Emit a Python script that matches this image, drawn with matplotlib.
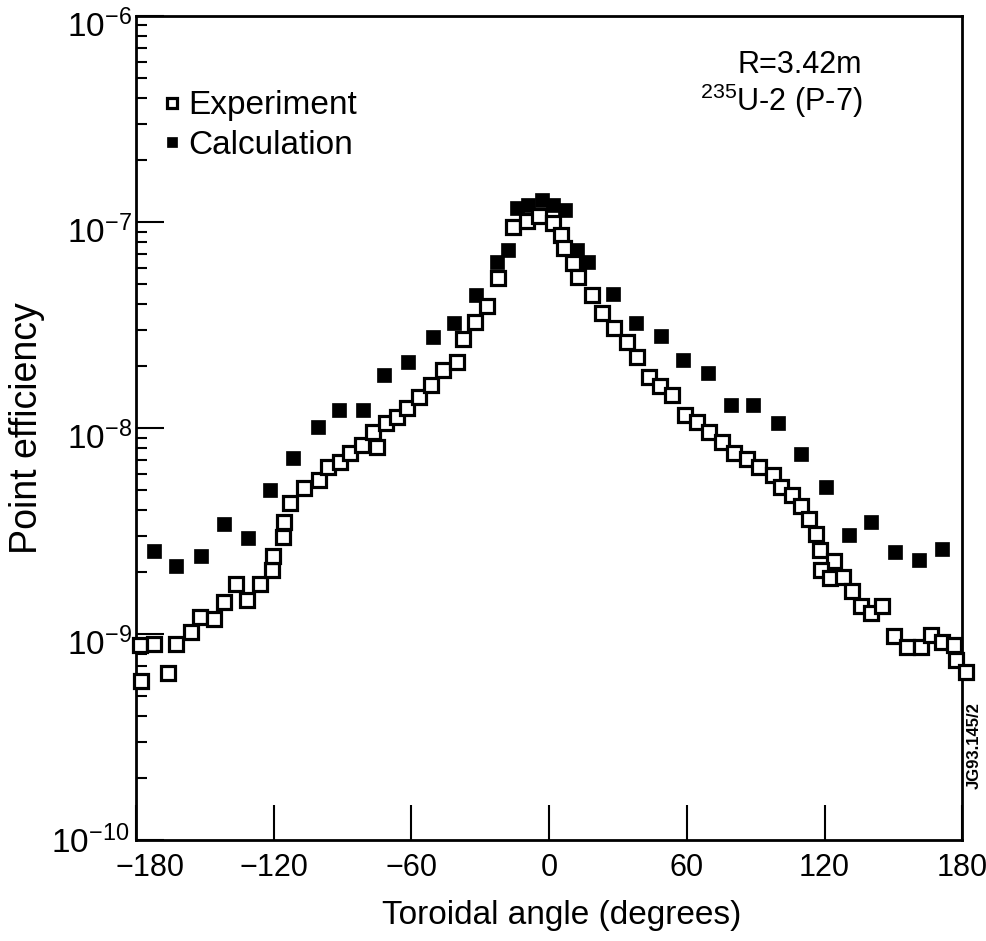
import numpy as np
import matplotlib
matplotlib.use("Agg")
import matplotlib.pyplot as plt
from matplotlib.ticker import LogLocator, FixedLocator, NullFormatter
from matplotlib.transforms import ScaledTranslation

plt.rcParams["font.family"] = ["Liberation Sans", "DejaVu Sans"]
plt.rcParams["mathtext.default"] = "regular"
plt.rcParams["axes.unicode_minus"] = True

# Experiment (open squares): toroidal angle (deg), point efficiency
exp_angle = [-178.3, -177.8, -172.2, -166.1, -162.6, -156.1, -152.1, -146.0,
             -141.7, -136.5, -131.7, -126.0, -120.8, -120.3, -116.0, -115.5,
             -113.0, -106.9, -100.3, -96.4, -91.2, -86.8, -81.6, -76.8,
             -75.1, -71.2, -66.4, -62.0, -56.8, -51.6, -46.4, -40.3,
             -37.7, -32.4, -27.2, -22.4, -15.9, -9.8, -4.6, 1.5,
             5.0, 6.3, 10.2, 12.4, 18.5, 22.9, 28.1, 33.7,
             38.1, 43.3, 48.1, 53.3, 59.0, 64.2, 69.8, 75.5,
             80.3, 86.0, 91.6, 97.3, 101.2, 106.0, 109.9, 113.0,
             116.4, 118.2, 124.3, 118.6, 122.5, 127.8, 132.1, 136.0,
             140.4, 145.2, 150.4, 156.1, 162.1, 166.5, 171.3, 176.5,
             177.4, 181.5]
exp_eff = [8.85e-10, 5.9e-10, 9.0e-10, 6.5e-10, 9.0e-10, 1.03e-9, 1.21e-9, 1.18e-9,
           1.43e-9, 1.75e-9, 1.46e-9, 1.75e-9, 2.05e-9, 2.39e-9, 2.96e-9, 3.50e-9,
           4.32e-9, 5.11e-9, 5.59e-9, 6.47e-9, 6.84e-9, 7.56e-9, 8.27e-9, 9.57e-9,
           8.09e-9, 1.06e-8, 1.13e-8, 1.25e-8, 1.41e-8, 1.62e-8, 1.91e-8, 2.09e-8,
           2.70e-8, 3.27e-8, 3.91e-8, 5.35e-8, 9.46e-8, 1.01e-7, 1.07e-7, 9.89e-8,
           8.65e-8, 7.48e-8, 6.32e-8, 5.41e-8, 4.42e-8, 3.62e-8, 3.06e-8, 2.61e-8,
           2.21e-8, 1.77e-8, 1.60e-8, 1.45e-8, 1.16e-8, 1.07e-8, 9.57e-9, 8.55e-9,
           7.56e-9, 7.08e-9, 6.47e-9, 5.91e-9, 5.17e-9, 4.73e-9, 4.18e-9, 3.62e-9,
           3.06e-9, 2.56e-9, 2.26e-9, 2.05e-9, 1.87e-9, 1.89e-9, 1.62e-9, 1.37e-9,
           1.27e-9, 1.37e-9, 9.78e-10, 8.65e-10, 8.65e-10, 9.89e-10, 9.15e-10, 8.85e-10,
           7.48e-10, 6.54e-10]

# Calculation (filled squares)
calc_angle = [-172.2, -162.6, -151.7, -141.7, -131.2, -121.7, -111.7, -100.8,
              -91.6, -81.2, -72.0, -61.6, -50.7, -41.6, -32.0, -22.9,
              -18.1, -14.1, -9.4, -3.3, 1.5, 6.7, 12.0, 16.8,
              27.6, 37.7, 48.5, 58.1, 69.0, 79.4, 89.0, 99.9,
              109.9, 120.4, 130.8, 140.4, 150.8, 161.3, 171.3]
calc_eff = [2.53e-9, 2.14e-9, 2.39e-9, 3.42e-9, 2.92e-9, 5.0e-9, 7.15e-9, 1.01e-8,
            1.22e-8, 1.22e-8, 1.81e-8, 2.09e-8, 2.77e-8, 3.24e-8, 4.43e-8, 6.40e-8,
            7.31e-8, 1.17e-7, 1.21e-7, 1.28e-7, 1.21e-7, 1.14e-7, 7.31e-8, 6.40e-8,
            4.46e-8, 3.24e-8, 2.80e-8, 2.14e-8, 1.85e-8, 1.29e-8, 1.29e-8, 1.06e-8,
            7.48e-9, 5.18e-9, 3.03e-9, 3.50e-9, 2.50e-9, 2.29e-9, 2.59e-9]

x_ticks = [-180, -120, -60, 0, 60, 120, 180]
x_labels = ["\u2212180", "\u2212120", "\u221260", "0", "60", "120", "180"]
y_ticks = [1e-10, 1e-9, 1e-8, 1e-7, 1e-6]
y_labels = ["$10^{-10}$", "$10^{-9}$", "$10^{-8}$", "$10^{-7}$", "$10^{-6}$"]

fig = plt.figure(figsize=(9.86, 9.41), dpi=100)
ax = fig.add_axes([0.138, 0.107, 0.838, 0.876])

ax.plot(calc_angle, calc_eff, ls="none", marker="s", ms=9.5, mfc="black",
        mec="black", mew=0.5, label="Calculation", zorder=2, clip_on=False)
ax.plot(exp_angle, exp_eff, ls="none", marker="s", ms=9.5, mfc="white",
        mec="black", mew=2.3, label="Experiment", zorder=3, clip_on=False)

ax.set_yscale("log")
ax.set_xlim(-180, 180)
ax.set_ylim(1e-10, 1e-6)

ax.xaxis.set_major_locator(FixedLocator(x_ticks))
ax.set_xticklabels(x_labels)
ax.yaxis.set_major_locator(FixedLocator(y_ticks))
ax.set_yticklabels(y_labels)
ax.yaxis.set_minor_locator(LogLocator(base=10, subs=np.arange(2, 10), numticks=20))
ax.yaxis.set_minor_formatter(NullFormatter())

ax.tick_params(axis="x", which="major", direction="in", length=25, width=1.5,
               labelsize=22, pad=9, top=False)
ax.tick_params(axis="y", which="major", direction="in", length=20, width=1.5,
               labelsize=24, pad=3, right=False)
ax.tick_params(axis="y", which="minor", direction="in", length=8, width=1.5,
               right=False)
for s in ax.spines.values():
    s.set_linewidth(2)

# the reference sets its power labels a little below the tick,
# except the bottom one which sits clear of the -180 label
ylabs = ax.get_yticklabels()
for i, lab in enumerate(ylabs):
    dy = 1 if i == 0 else -5
    dx = -2 if i == 0 else 0
    lab.set_transform(lab.get_transform() +
                      ScaledTranslation(dx / 72, dy / 72, fig.dpi_scale_trans))
# and its -180 label sits a bit right of the corner
xl = ax.get_xticklabels()[0]
xl.set_transform(xl.get_transform() + ScaledTranslation(10 / 72, 0, fig.dpi_scale_trans))

ax.set_xlabel("Toroidal angle (degrees)", fontsize=24)
ax.xaxis.set_label_coords(0.515, -0.073)
ax.set_ylabel("Point efficiency", fontsize=27, labelpad=4)

handles, labels = ax.get_legend_handles_labels()
ax.legend(handles[::-1], labels[::-1], loc="upper left",
          bbox_to_anchor=(-0.005, 0.938), frameon=False, fontsize=24,
          handletextpad=0.0, handlelength=1.0, markerscale=0.8,
          labelspacing=0.25, borderaxespad=0.3)

ax.text(0.879, 0.94, "R=3.42m", transform=ax.transAxes, ha="right",
        va="center", fontsize=22)
ax.text(0.879, 0.897, "$^{235}$U-2 (P-7)", transform=ax.transAxes, ha="right",
        va="center", fontsize=22)

fig.text(0.988, 0.208, "JG93.145/2", rotation=90, ha="center", va="center",
         fontsize=12, fontweight="bold")

fig.savefig("out.png", dpi=100)
